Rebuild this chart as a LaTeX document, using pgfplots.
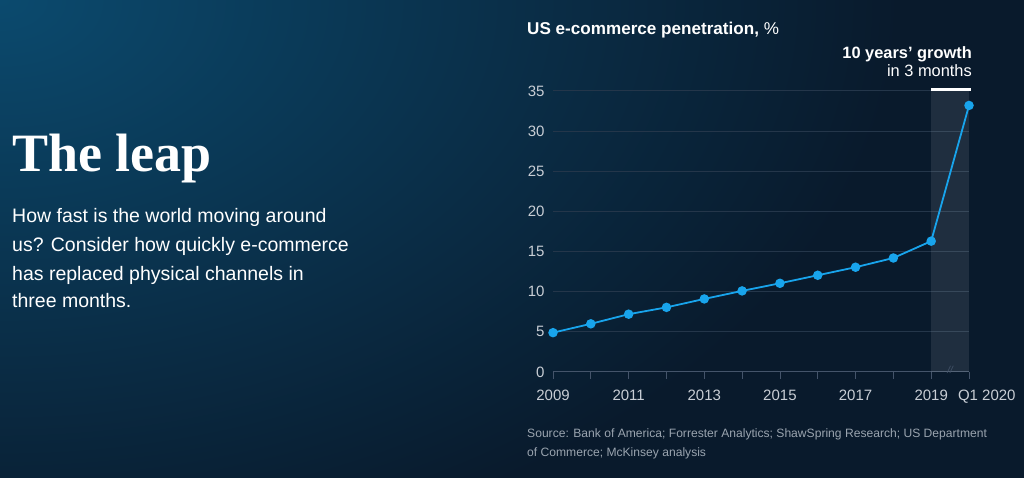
\documentclass[border=0pt]{standalone}
\usepackage{fontspec}
\setmainfont{Liberation Sans}
\newfontfamily\leapfont{Liberation Serif}
\usepackage{pgfplots}
\pgfplotsset{compat=1.18}
\definecolor{bg}{HTML}{091A2C}
\definecolor{bghi}{HTML}{0B4A6E}
\definecolor{gridc}{HTML}{24364A}
\definecolor{axisc}{HTML}{44546A}
\definecolor{tickc}{HTML}{C9CED5}
\definecolor{linec}{HTML}{18A4EC}
\definecolor{srcc}{HTML}{9AA4AF}
\begin{document}
\begin{tikzpicture}[x=1pt,y=1pt]
\fill[bg] (0,0) rectangle (1024,478);
\begin{scope}
\clip (0,0) rectangle (1024,478);
\shade[inner color=bghi, outer color=bg] (0,478) ellipse (900 and 580);
\end{scope}
\useasboundingbox (0,0) rectangle (1024,478);

\node[anchor=base west, inner sep=0, white, font=\leapfont\bfseries\fontsize{54}{54}\selectfont] at (12,306) {The leap};
\begin{scope}[every node/.style={anchor=base west, inner sep=0, white, font=\fontsize{19.5}{19.5}\selectfont}]
\node at (12,255) {How fast is the world moving around};
\node at (12,226) {us? Consider how quickly e-commerce};
\node at (12,197) {has replaced physical channels in};
\node at (12,170) {three months.};
\end{scope}

\node[anchor=base west, inner sep=0, white, font=\fontsize{17.1}{17.1}\selectfont] at (527,443) {\textbf{US e-commerce penetration,} \%};
\node[anchor=base east, inner sep=0, white, font=\bfseries\fontsize{16.4}{16.4}\selectfont] at (972,419) {10 years’ growth};
\node[anchor=base east, inner sep=0, white, font=\fontsize{16.4}{16.4}\selectfont] at (972,401) {in 3 months};

\begin{scope}[every node/.style={anchor=base west, inner sep=0, text=srcc, font=\fontsize{12.1}{12.1}\selectfont}]
\node at (527,40) {Source: Bank of America; Forrester Analytics; ShawSpring Research; US Department};
\node at (527,21) {of Commerce; McKinsey analysis};
\end{scope}

\begin{axis}[
  at={(553pt,106pt)}, anchor=south west,
  scale only axis, width=416pt, height=281pt,
  xmin=0, xmax=11, ymin=0, ymax=35,
  axis lines*=left,
  y axis line style={draw=none},
  x axis line style={draw=axisc, line width=1pt},
  ytick={0,5,...,35},
  ymajorgrids,
  grid style={draw=gridc, line width=1pt},
  ytick style={draw=none},
  xtick={0,...,11},
  xticklabels={2009,,2011,,2013,,2015,,2017,,2019,{\makebox[0pt][l]{\hspace{-11pt}Q1 2020}}},
  xtick style={draw=axisc, line width=0.8pt},
  tick align=outside,
  major tick length=7pt,
  tick label style={text=tickc, font=\fontsize{15}{15}\selectfont},
  yticklabel style={xshift=2pt},
  xticklabel style={yshift=-7pt},
  /pgf/number format/assume math mode=true,
  clip=false,
]
\fill[white, opacity=0.09] (axis cs:10,0) rectangle (axis cs:11,35);
\draw[white, line width=3pt] (axis cs:10,35.15) -- (axis cs:11.05,35.15);
\node[text=axisc, font=\fontsize{10}{10}\selectfont\itshape] at (axis cs:10.5,0.3) {//};
\addplot[linec, line width=1.8pt, mark=*, mark size=3.8pt, mark options={fill=linec, draw=none}]
  coordinates {(0,4.9)(1,6.0)(2,7.2)(3,8.05)(4,9.1)(5,10.1)(6,11.05)(7,12.05)(8,13.05)(9,14.2)(10,16.3)(11,33.2)};
\end{axis}
\end{tikzpicture}
\end{document}
